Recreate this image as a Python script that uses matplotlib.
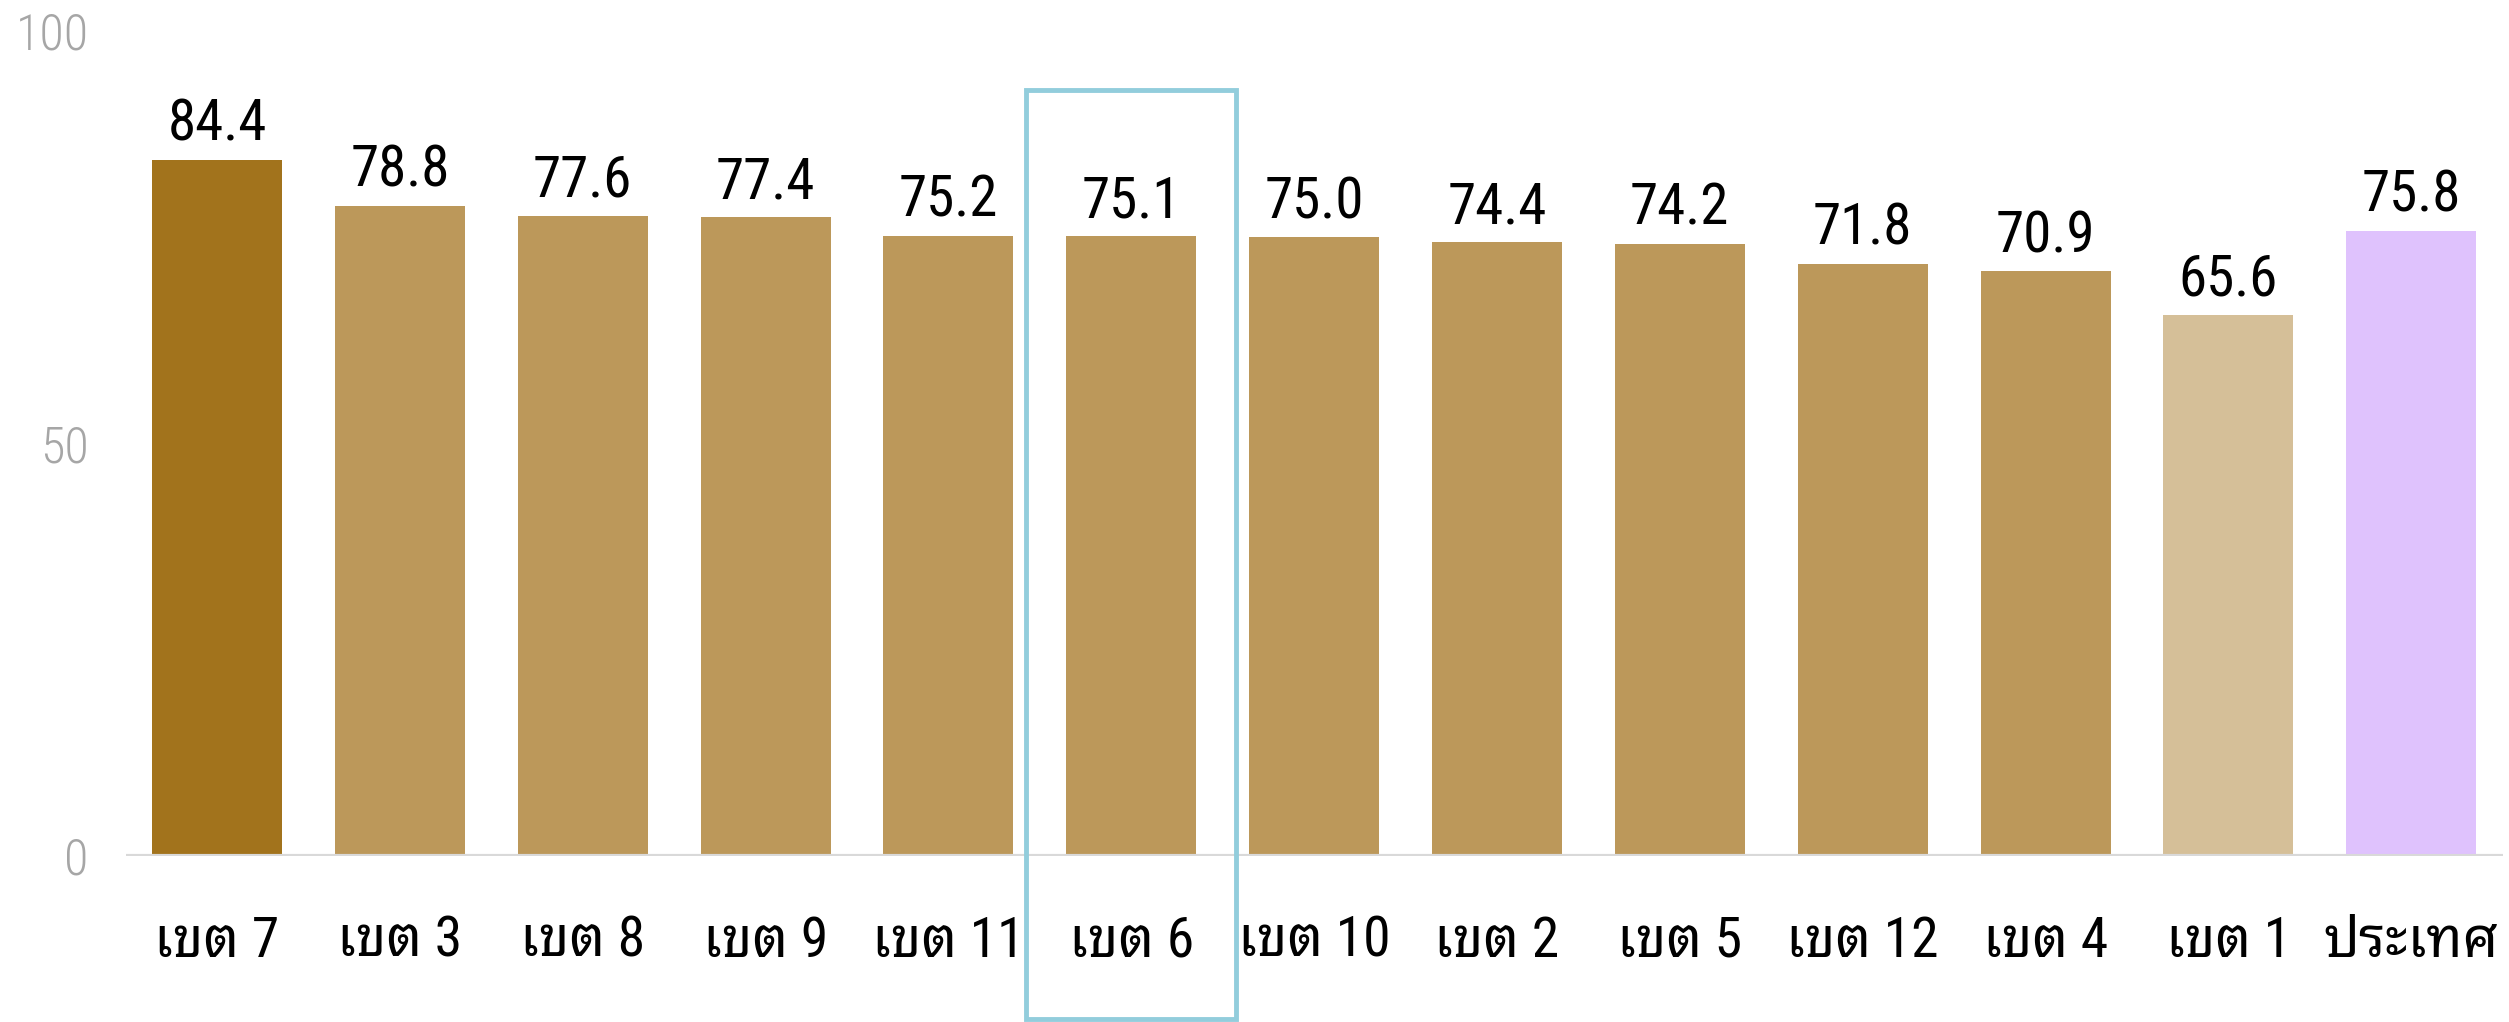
import matplotlib
matplotlib.use("Agg")
import matplotlib.pyplot as plt
from matplotlib.patches import Rectangle

categories = ["เขต 7", "เขต 3", "เขต 8", "เขต 9", "เขต 11", "เขต 6", "เขต 10",
              "เขต 2", "เขต 5", "เขต 12", "เขต 4", "เขต 1", "ประเทศ"]
values = [84.4, 78.8, 77.6, 77.4, 75.2, 75.1, 75.0, 74.4, 74.2, 71.8, 70.9, 65.6, 75.8]
colors = ["#A2731C"] + ["#BC985A"] * 10 + ["#D5BF98", "#DFC2FD"]
yticks = [0, 50, 100]
highlight = "เขต 6"

FONT = ["Roboto Condensed", "Noto Sans Thai Looped", "Noto Sans Thai", "DejaVu Sans"]
plt.rcParams['font.family'] = FONT

fig = plt.figure(figsize=(25.09, 10.22), dpi=100)
ax = fig.add_axes([0.05006, 0.1624, 0.9474, 0.8073])

x = list(range(len(categories)))
ax.bar(x, values, width=0.711, color=colors, zorder=2)

for xi, v in zip(x, values):
    ax.annotate(f"{v:.1f}", (xi, v), xytext=(0, 13.7), textcoords="offset points",
                ha="center", va="baseline", fontsize=41, color="black")

ax.set_xlim(-0.5, len(categories) - 0.5)
ax.set_ylim(0, 100)
ax.set_xticks(x)
ax.set_xticklabels(categories, fontsize=40, color="black", va="baseline")
ax.set_yticks(yticks)
ax.set_yticklabels([str(t) for t in yticks], fontsize=36, color="#A6A6A6",
                   fontweight="light")
ax.tick_params(axis="x", length=0, pad=72.7)
ax.tick_params(axis="y", length=0, pad=26.6)
for s in ax.spines.values():
    s.set_visible(False)
ax.axhline(0, color="#D9D9D9", lw=3.0, zorder=3)

hi = categories.index(highlight)
rect = Rectangle((hi - 0.575, -19.77), 1.15, 112.57, fill=False,
                 edgecolor="#92CDDC", lw=3.5, clip_on=False, zorder=4)
ax.add_patch(rect)

fig.savefig("out.png", dpi=100)
